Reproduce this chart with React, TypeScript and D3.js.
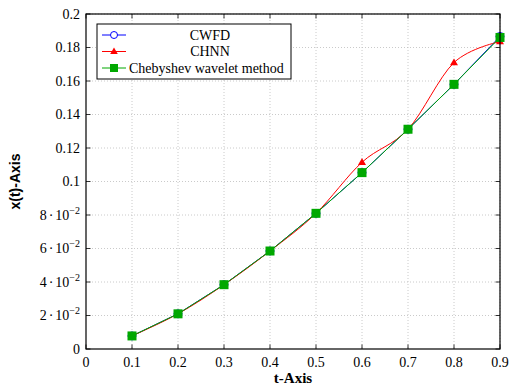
import React from "react";
import * as d3 from "d3";

const tValues = [0.1, 0.2, 0.3, 0.4, 0.5, 0.6, 0.7, 0.8, 0.9];
const cwfd = [0.0078, 0.021, 0.0384, 0.0585, 0.081, 0.1053, 0.1312, 0.158, 0.1866];
const chnn = [0.0078, 0.021, 0.0384, 0.0585, 0.081, 0.1115, 0.1312, 0.171, 0.1835];
const chebyshev = [0.0078, 0.021, 0.0384, 0.0585, 0.081, 0.1053, 0.1312, 0.158, 0.186];

const xTicks = [0, 0.1, 0.2, 0.3, 0.4, 0.5, 0.6, 0.7, 0.8, 0.9];
const yTicks = [0, 0.02, 0.04, 0.06, 0.08, 0.1, 0.12, 0.14, 0.16, 0.18, 0.2];
const yTickLabels = ["0", "2·10-2", "4·10-2", "6·10-2", "8·10-2", "0.1", "0.12", "0.14", "0.16", "0.18", "0.2"];
const xTickLabels = ["0", "0.1", "0.2", "0.3", "0.4", "0.5", "0.6", "0.7", "0.8", "0.9"];
const legendNames = ["CWFD", "CHNN", "Chebyshev wavelet method"];

const BLUE = "#0000ff";
const RED = "#ff0000";
const GREEN = "#00a800";
const SERIF = "'Liberation Serif', 'Times New Roman', serif";
const SANS = "'Liberation Sans', Arial, sans-serif";

const L = 86, R = 500, T = 14, B = 349;

export default function App() {
  const x = d3.scaleLinear().domain([0, 0.9]).range([L, R]);
  const y = d3.scaleLinear().domain([0, 0.2]).range([B, T]);
  const pts = (vals: number[]) => tValues.map((t, i) => [x(t), y(vals[i])] as [number, number]);
  const straight = d3.line().curve(d3.curveLinear);
  const smooth = d3.line().curve(d3.curveCardinal.tension(0));

  const tri = (cx: number, cy: number, s: number) =>
    `M${cx},${cy - s}L${cx + s * 0.95},${cy + s * 0.65}L${cx - s * 0.95},${cy + s * 0.65}Z`;

  const renderYLabel = (lab: string) => {
    if (lab.includes("·")) {
      const [m] = lab.split("·");
      return (
        <>
          <tspan>{m}</tspan>
          <tspan dx="2">·</tspan>
          <tspan dx="2">10</tspan>
          <tspan dy="-6" fontSize="10">−2</tspan>
        </>
      );
    }
    return lab;
  };

  const legX = 97, legY = 24, legW = 194, legH = 55;
  const rows = [35, 51.5, 68];

  return (
    <svg width={518} height={390} style={{ position: "absolute", left: 0, top: 0, background: "#fff" }}>
      {/* grid */}
      {xTicks.slice(1).map((t) => (
        <line key={"gx" + t} x1={x(t)} x2={x(t)} y1={T} y2={B} stroke="#bdbdbd" strokeWidth={0.8} strokeDasharray="1,2" />
      ))}
      {yTicks.slice(1).map((t) => (
        <line key={"gy" + t} x1={L} x2={R} y1={y(t)} y2={y(t)} stroke="#bdbdbd" strokeWidth={0.8} strokeDasharray="1,2" />
      ))}
      {/* ticks */}
      {xTicks.map((t) => (
        <g key={"tx" + t}>
          <line x1={x(t)} x2={x(t)} y1={B} y2={B - 4.5} stroke="#000" strokeWidth={0.8} />
          <line x1={x(t)} x2={x(t)} y1={T} y2={T + 4.5} stroke="#000" strokeWidth={0.8} />
        </g>
      ))}
      {yTicks.map((t) => (
        <g key={"ty" + t}>
          <line x1={L} x2={L + 4.5} y1={y(t)} y2={y(t)} stroke="#000" strokeWidth={0.8} />
          <line x1={R} x2={R - 4.5} y1={y(t)} y2={y(t)} stroke="#000" strokeWidth={0.8} />
        </g>
      ))}
      {/* series */}
      <path d={straight(pts(cwfd)) || ""} fill="none" stroke={BLUE} strokeWidth={1} />
      {pts(cwfd).map(([cx, cy], i) => (
        <circle key={"c" + i} cx={cx} cy={cy} r={4} fill="#fff" stroke={BLUE} strokeWidth={1} />
      ))}
      <path d={smooth(pts(chnn)) || ""} fill="none" stroke={RED} strokeWidth={1} />
      {pts(chnn).map(([cx, cy], i) => (
        <path key={"t" + i} d={tri(cx, cy, 4.2)} fill={RED} />
      ))}
      <path d={straight(pts(chebyshev)) || ""} fill="none" stroke={GREEN} strokeWidth={1} />
      {pts(chebyshev).map(([cx, cy], i) => (
        <rect key={"s" + i} x={cx - 4.5} y={cy - 4.5} width={9} height={9} fill={GREEN} />
      ))}
      {/* axis box */}
      <rect x={L} y={T} width={R - L} height={B - T} fill="none" stroke="#000" strokeWidth={1.2} />
      {/* tick labels */}
      {xTicks.map((t, i) => (
        <text key={"xl" + t} x={x(t)} y={B + 18} textAnchor="middle" fontFamily={SERIF} fontSize={14} fill="#000">
          {xTickLabels[i]}
        </text>
      ))}
      {yTicks.map((t, i) => (
        <text key={"yl" + t} x={L - 6} y={y(t) + 4.5} textAnchor="end" fontFamily={SERIF} fontSize={14} fill="#000">
          {renderYLabel(yTickLabels[i])}
        </text>
      ))}
      {/* axis labels */}
      <text x={(L + R) / 2} y={383} textAnchor="middle" fontFamily={SERIF} fontWeight="bold" fontSize={15} fill="#000">
        t-Axis
      </text>
      <text transform={`translate(20, ${(T + B) / 2}) rotate(-90)`} textAnchor="middle" fontFamily={SANS} fontWeight="bold" fontSize={14} fill="#000">
        x(t)-Axis
      </text>
      {/* legend */}
      <rect x={legX} y={legY} width={legW} height={legH} fill="#fff" stroke="#000" strokeWidth={1} />
      {legendNames.map((name, i) => {
        const cy = rows[i];
        const color = [BLUE, RED, GREEN][i];
        return (
          <g key={name}>
            <line x1={102} x2={126} y1={cy} y2={cy} stroke={color} strokeWidth={1} />
            {i === 0 && <circle cx={114} cy={cy} r={3.5} fill="#fff" stroke={BLUE} strokeWidth={1} />}
            {i === 1 && <path d={tri(114, cy, 4)} fill={RED} />}
            {i === 2 && <rect x={110} y={cy - 4} width={8} height={8} fill={GREEN} />}
            <text x={i === 2 ? 129 : 210} y={cy + 4.5} textAnchor={i === 2 ? "start" : "middle"} fontFamily={SERIF} fontSize={14} fill="#000">
              {name}
            </text>
          </g>
        );
      })}
    </svg>
  );
}
